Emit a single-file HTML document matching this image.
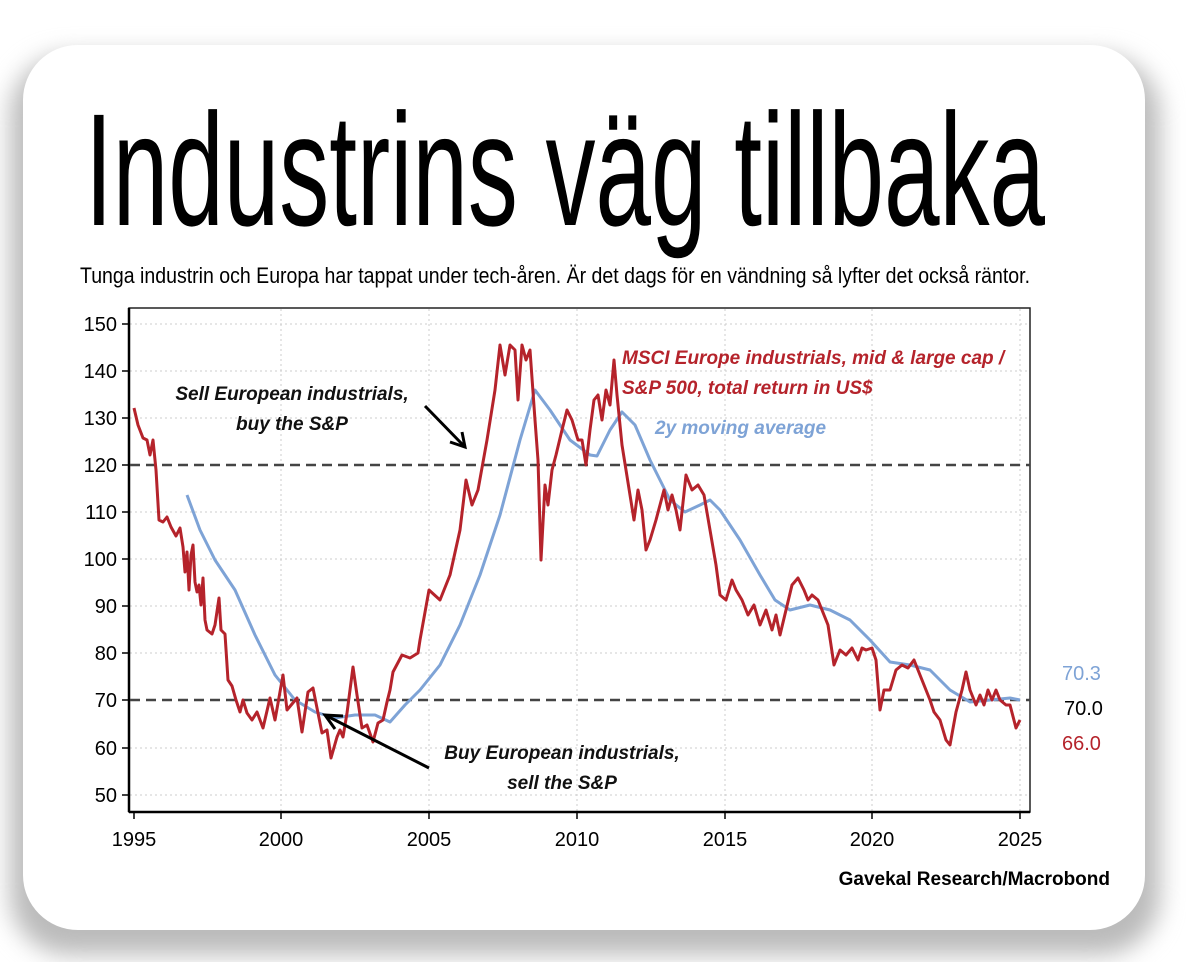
<!DOCTYPE html>
<html><head><meta charset="utf-8"><style>
html,body{margin:0;padding:0;background:#fff;}
body{width:1186px;height:962px;overflow:hidden;position:relative;font-family:"Liberation Sans",sans-serif;}
.shadow{position:absolute;left:10px;top:55px;width:1150px;height:900px;border-radius:60px;background:#bbb;filter:blur(12px);}
.card{position:absolute;left:23px;top:45px;width:1122px;height:885px;border-radius:55px;background:#fff;}
svg{position:absolute;left:0;top:0;}
</style></head><body>
<div class="shadow"></div><div class="card"></div>
<svg width="1186" height="962" viewBox="0 0 1186 962" font-family="Liberation Sans, sans-serif">
<text x="85" y="225" font-size="160" textLength="960" lengthAdjust="spacingAndGlyphs" fill="#000">Industrins väg tillbaka</text>
<text x="80" y="283" font-size="22" textLength="950" lengthAdjust="spacingAndGlyphs" fill="#000">Tunga industrin och Europa har tappat under tech-åren. Är det dags för en vändning så lyfter det också räntor.</text>
<g stroke="#ccc" stroke-width="1" stroke-dasharray="2,3">
<line x1="130" y1="324" x2="1030" y2="324"/><line x1="130" y1="371" x2="1030" y2="371"/><line x1="130" y1="418" x2="1030" y2="418"/><line x1="130" y1="512" x2="1030" y2="512"/><line x1="130" y1="559" x2="1030" y2="559"/><line x1="130" y1="606" x2="1030" y2="606"/><line x1="130" y1="653" x2="1030" y2="653"/><line x1="130" y1="748" x2="1030" y2="748"/><line x1="130" y1="795" x2="1030" y2="795"/>
<line x1="281" y1="309" x2="281" y2="811"/><line x1="429" y1="309" x2="429" y2="811"/><line x1="577" y1="309" x2="577" y2="811"/><line x1="725" y1="309" x2="725" y2="811"/><line x1="872" y1="309" x2="872" y2="811"/><line x1="1020" y1="309" x2="1020" y2="811"/>
</g>
<rect x="129" y="308" width="901" height="504" fill="none" stroke="#222" stroke-width="1.5"/>
<line x1="129" y1="308" x2="129" y2="812" stroke="#000" stroke-width="2.5"/>
<line x1="129" y1="812" x2="1030" y2="812" stroke="#000" stroke-width="2.5"/>
<g stroke="#000" stroke-width="1.5">
<line x1="122" y1="324" x2="129" y2="324"/><line x1="122" y1="371" x2="129" y2="371"/><line x1="122" y1="418" x2="129" y2="418"/><line x1="122" y1="465" x2="129" y2="465"/><line x1="122" y1="512" x2="129" y2="512"/><line x1="122" y1="559" x2="129" y2="559"/><line x1="122" y1="606" x2="129" y2="606"/><line x1="122" y1="653" x2="129" y2="653"/><line x1="122" y1="700" x2="129" y2="700"/><line x1="122" y1="748" x2="129" y2="748"/><line x1="122" y1="795" x2="129" y2="795"/>
<line x1="134" y1="812" x2="134" y2="819"/><line x1="281" y1="812" x2="281" y2="819"/><line x1="429" y1="812" x2="429" y2="819"/><line x1="577" y1="812" x2="577" y2="819"/><line x1="725" y1="812" x2="725" y2="819"/><line x1="872" y1="812" x2="872" y2="819"/><line x1="1020" y1="812" x2="1020" y2="819"/>
</g>
<g font-size="20" fill="#000" text-anchor="end">
<text x="117" y="331">150</text><text x="117" y="378">140</text><text x="117" y="425">130</text><text x="117" y="472">120</text><text x="117" y="519">110</text><text x="117" y="566">100</text><text x="117" y="613">90</text><text x="117" y="660">80</text><text x="117" y="707">70</text><text x="117" y="755">60</text><text x="117" y="802">50</text>
</g>
<g font-size="20" fill="#000" text-anchor="middle">
<text x="134" y="846">1995</text><text x="281" y="846">2000</text><text x="429" y="846">2005</text><text x="577" y="846">2010</text><text x="725" y="846">2015</text><text x="872" y="846">2020</text><text x="1020" y="846">2025</text>
</g>
<g stroke="#444" stroke-width="2.5" stroke-dasharray="10,6">
<line x1="130" y1="465" x2="1030" y2="465"/><line x1="130" y1="700" x2="1030" y2="700"/>
</g>
<polyline fill="none" stroke="#7ea3d6" stroke-width="3" stroke-linejoin="round" points="187,495 200,530 215,560 235,590 255,635 275,675 295,700 315,712 335,718 355,715 375,715 390,722 405,705 420,690 440,665 460,625 480,575 500,515 520,440 535,390 550,410 570,440 590,455 597,456 610,430 622,412 635,425 650,460 670,500 685,512 700,505 710,500 720,510 740,540 760,575 775,600 790,610 810,605 830,610 850,620 870,640 890,662 910,665 930,670 950,690 970,702 990,700 1010,698 1020,700"/>
<polyline fill="none" stroke="#b5232b" stroke-width="3" stroke-linejoin="round" points="134,408 138,425 143,438 147,440 150,455 153,440 156,470 159,520 163,522 167,517 171,527 176,536 180,528 183,547 185,572 187,552 189,590 191,555 193,545 195,582 197,592 199,585 201,605 203,578 205,620 207,630 212,634 215,625 219,598 221,630 225,634 228,680 232,686 236,700 240,712 243,700 247,713 252,720 257,712 263,728 270,698 275,720 283,675 287,710 297,698 302,732 308,692 313,688 322,733 327,730 331,758 337,737 340,730 343,737 347,713 353,667 357,695 362,728 367,725 373,742 378,723 383,720 387,702 390,690 393,672 402,655 410,658 418,653 420,640 429,590 440,600 450,575 460,530 466,480 472,505 478,490 487,440 495,390 500,345 505,375 510,345 515,350 518,400 522,345 526,360 530,350 535,420 538,460 541,560 545,485 548,505 552,470 556,455 562,430 567,410 572,420 578,440 582,440 586,465 590,430 594,400 598,395 602,420 606,390 610,405 614,360 617,395 622,445 626,470 630,495 634,520 638,490 642,510 646,550 650,540 656,520 660,505 664,490 668,510 672,495 676,510 680,530 686,475 692,490 698,485 704,495 710,530 716,565 720,595 726,600 732,580 736,590 742,600 748,615 754,605 760,625 766,610 772,630 776,615 780,635 786,610 792,585 798,578 804,590 808,600 812,595 818,600 824,615 828,625 834,665 840,650 846,655 852,648 858,660 862,648 866,650 872,648 876,660 880,710 884,690 890,690 896,670 902,665 908,668 914,660 918,670 922,680 926,690 930,700 934,712 940,720 946,740 950,745 956,712 962,690 966,672 970,690 976,705 980,695 984,705 988,690 992,700 996,690 1000,700 1006,705 1010,705 1016,728 1020,720"/>
<g stroke="#000" stroke-width="3" fill="none">
<line x1="425" y1="406" x2="463" y2="445"/><polyline points="450,442 465,447 462,432"/>
<line x1="429" y1="768" x2="325" y2="715"/><polyline points="343,716 325,715 335,729"/>
</g>
<g font-size="19" font-weight="bold" font-style="italic" fill="#111" text-anchor="middle">
<text x="292" y="400">Sell European industrials,</text><text x="292" y="430">buy the S&amp;P</text>
<text x="562" y="759">Buy European industrials,</text><text x="562" y="789">sell the S&amp;P</text>
</g>
<g font-size="19" font-weight="bold" font-style="italic" fill="#b5232b">
<text x="622" y="364">MSCI Europe industrials, mid &amp; large cap /</text><text x="622" y="394">S&amp;P 500, total return in US$</text>
</g>
<text x="655" y="434" font-size="19" font-weight="bold" font-style="italic" fill="#7ea3d6">2y moving average</text>
<text x="1062" y="680" font-size="20" fill="#7ea3d6">70.3</text>
<text x="1064" y="715" font-size="20" fill="#000">70.0</text>
<text x="1062" y="750" font-size="20" fill="#b5232b">66.0</text>
<text x="1110" y="885" font-size="19" font-weight="bold" fill="#000" text-anchor="end">Gavekal Research/Macrobond</text>
</svg>
</body></html>
